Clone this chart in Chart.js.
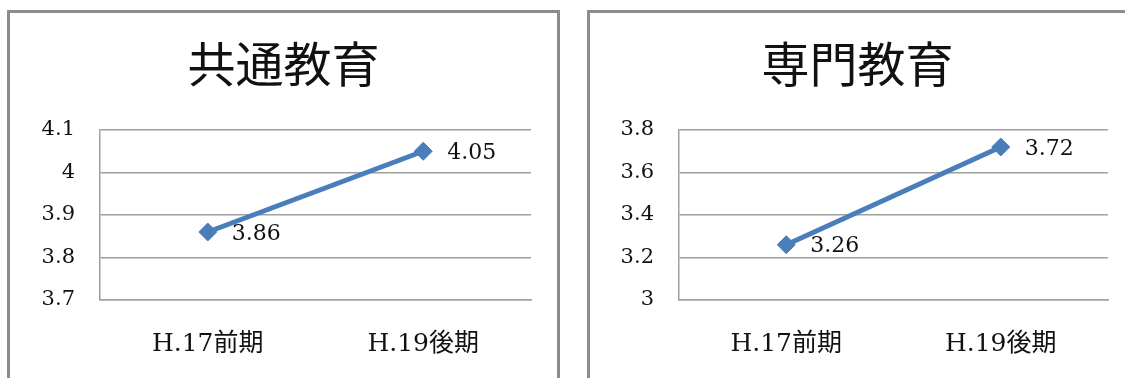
<!DOCTYPE html>
<html>
<head>
<meta charset="utf-8">
<script src="https://cdn.jsdelivr.net/npm/chart.js@4.4.1/dist/chart.umd.min.js"></script>
<style>
  html, body { margin: 0; padding: 0; background: #fff; overflow: hidden; }
  body { width: 1125px; height: 378px; position: relative; }
  .box { position: absolute; top: 10px; height: 380px; box-sizing: border-box;
         border: 3px solid #8c8c8c; background: #fff; }
  #boxA { left: 7px; width: 553px; }
  #boxB { left: 587px; width: 541px; }
  .box canvas { display: block; }
</style>
</head>
<body>
<div class="box" id="boxA"><canvas id="chartA" width="547" height="374"></canvas></div>
<div class="box" id="boxB"><canvas id="chartB" width="535" height="374"></canvas></div>
<script>
// Survey periods on the x axis
const periods = ['H.17前期', 'H.19後期'];

// 共通教育 (general education) averages
const generalTitle = '共通教育';
const generalValues = [3.86, 4.05];
const generalTicks = [3.7, 3.8, 3.9, 4.0, 4.1];
const generalTickLabels = ['3.7', '3.8', '3.9', '4', '4.1'];

// 専門教育 (specialised education) averages
const majorTitle = '専門教育';
const majorValues = [3.26, 3.72];
const majorTicks = [3.0, 3.2, 3.4, 3.6, 3.8];
const majorTickLabels = ['3', '3.2', '3.4', '3.6', '3.8'];

const SERIF = '"DejaVu Serif", "Noto Sans CJK JP", serif';
const LINE_BLUE = '#4a7ebb';
const GRID_GREY = '#a0a0a0';

// Big centred heading drawn above the plot area
const headingPlugin = {
  id: 'heading',
  afterDraw(chart, args, opts) {
    const ctx = chart.ctx;
    ctx.save();
    ctx.font = '48px "Noto Sans CJK JP", sans-serif';
    ctx.fillStyle = '#111';
    ctx.textAlign = 'center';
    ctx.textBaseline = 'middle';
    ctx.fillText(opts.text, chart.width / 2, opts.y);
    ctx.restore();
  }
};

// Value written to the right of each marker
const valueLabelPlugin = {
  id: 'valueLabels',
  afterDatasetsDraw(chart) {
    const ctx = chart.ctx;
    const ds = chart.data.datasets[0];
    const meta = chart.getDatasetMeta(0);
    ctx.save();
    ctx.font = '22px ' + SERIF;
    ctx.fillStyle = '#111';
    ctx.textAlign = 'left';
    ctx.textBaseline = 'middle';
    meta.data.forEach((pt, i) => {
      ctx.fillText(ds.data[i].toFixed(2), pt.x + 24, pt.y + 2);
    });
    ctx.restore();
  }
};

function makeChart(id, title, values, ticks, tickLabels, axisWidth, rightPad) {
  return new Chart(document.getElementById(id), {
    type: 'line',
    data: {
      labels: periods,
      datasets: [{
        data: values,
        borderColor: LINE_BLUE,
        backgroundColor: LINE_BLUE,
        borderWidth: 5,
        pointStyle: 'rectRot',
        pointRadius: 9,
        pointBorderWidth: 1,
        pointBackgroundColor: LINE_BLUE,
        pointBorderColor: LINE_BLUE,
        tension: 0
      }]
    },
    options: {
      responsive: false,
      animation: false,
      layout: { padding: { top: 117, right: rightPad, bottom: 0, left: 0 } },
      plugins: {
        legend: { display: false },
        tooltip: { enabled: false },
        heading: { text: title, y: 51 }
      },
      scales: {
        x: {
          offset: true,
          grid: { display: false, drawTicks: false },
          border: { display: true, color: GRID_GREY, width: 1.5 },
          ticks: { color: '#111', font: { family: SERIF, size: 25 }, padding: 29, maxRotation: 0 },
          afterFit(scale) { scale.height = 87; }
        },
        y: {
          min: ticks[0],
          max: ticks[ticks.length - 1],
          grid: { color: GRID_GREY, lineWidth: 1.5, drawTicks: false },
          border: { display: true, color: GRID_GREY, width: 1.5 },
          ticks: {
            color: '#111',
            font: { family: SERIF, size: 21 },
            padding: 25,
            callback: (v, i) => tickLabels[i]
          },
          afterBuildTicks(scale) { scale.ticks = ticks.map(v => ({ value: v })); },
          afterFit(scale) { scale.width = axisWidth; }
        }
      }
    },
    plugins: [headingPlugin, valueLabelPlugin]
  });
}

makeChart('chartA', generalTitle, generalValues, generalTicks, generalTickLabels, 90, 26);
makeChart('chartB', majorTitle, majorValues, majorTicks, majorTickLabels, 89, 17);
</script>
</body>
</html>
